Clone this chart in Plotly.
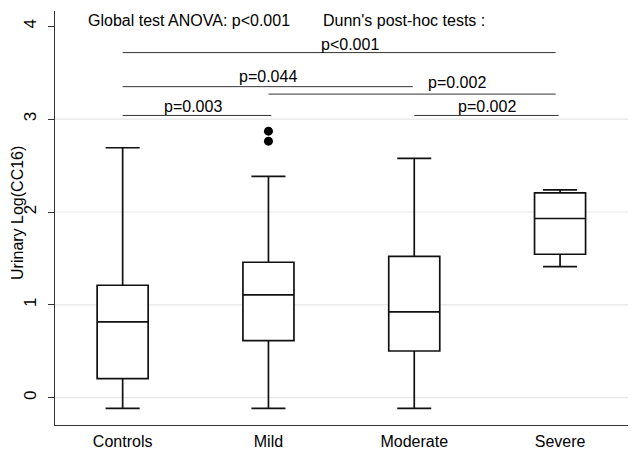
import plotly.graph_objects as go

# ---- data ----
categories = ["Controls", "Mild", "Moderate", "Severe"]
lower_whisker = [-0.115, -0.115, -0.115, 1.412]
q1_values = [0.205, 0.615, 0.503, 1.545]
median_values = [0.816, 1.107, 0.924, 1.930]
q3_values = [1.211, 1.459, 1.523, 2.207]
upper_whisker = [2.692, 2.383, 2.577, 2.239]

outlier_groups = ["Mild", "Mild"]
outlier_values = [2.871, 2.763]

y_tick_values = [0, 1, 2, 3, 4]
grid_values = [0, 1, 2, 3]

# pairwise comparisons: (from group index, to group index, bar level, label, label x, label y)
comp_from = [0, 0, 1, 0, 2]
comp_to = [2.97, 1.99, 2.97, 1.02, 2.99]
comp_level = [3.717, 3.35, 3.27, 3.04, 3.04]
comp_label = ["p<0.001", "p=0.044", "p=0.002", "p=0.003", "p=0.002"]
comp_label_x = [1.56, 1.0, 2.29, 0.48, 2.50]
comp_label_y = [3.806, 3.464, 3.393, 3.141, 3.137]

header_texts = ["Global test ANOVA: p<0.001", "Dunn's post-hoc tests :"]
header_x = [-0.254, 1.36]
header_y = 4.068

FONT = "Liberation Sans, Arial, sans-serif"

fig = go.Figure()

fig.add_trace(go.Box(
    x=categories,
    q1=q1_values,
    median=median_values,
    q3=q3_values,
    lowerfence=lower_whisker,
    upperfence=upper_whisker,
    fillcolor="white",
    line=dict(color="#111111", width=1.7),
    whiskerwidth=0.667,
    boxpoints=False,
    showlegend=False,
    hoverinfo="skip",
))

fig.add_trace(go.Scatter(
    x=outlier_groups,
    y=outlier_values,
    mode="markers",
    marker=dict(color="black", size=9),
    showlegend=False,
    hoverinfo="skip",
))

# light horizontal grid lines
for g in grid_values:
    fig.add_shape(type="line", xref="paper", x0=0, x1=1, yref="y", y0=g, y1=g,
                  line=dict(color="#e6e6e6", width=1.2), layer="below")

# comparison bars
for a, b, lvl in zip(comp_from, comp_to, comp_level):
    fig.add_shape(type="line", xref="x", yref="y", x0=a, x1=b, y0=lvl, y1=lvl,
                  line=dict(color="#333333", width=1))

for lab, lx, ly in zip(comp_label, comp_label_x, comp_label_y):
    fig.add_annotation(x=lx, y=ly, xref="x", yref="y", text=lab, showarrow=False,
                       xanchor="center", yanchor="middle",
                       font=dict(family=FONT, size=16, color="black"))

for t, hx in zip(header_texts, header_x):
    fig.add_annotation(x=hx, y=header_y, xref="x", yref="y", text=t, showarrow=False,
                       xanchor="left", yanchor="middle",
                       font=dict(family=FONT, size=16, color="black"))

# y axis title
fig.add_annotation(x=-37 / 573, y=1.99, xref="paper", yref="y", text="Urinary Log(CC16)",
                   showarrow=False, textangle=-90, xanchor="center", yanchor="middle",
                   font=dict(family=FONT, size=16, color="black"))

fig.update_layout(
    width=632, height=451,
    margin=dict(l=55, r=4, t=11, b=26, autoexpand=False),
    paper_bgcolor="white", plot_bgcolor="white",
    boxgap=0.5,
    font=dict(family=FONT, size=16, color="black"),
    xaxis=dict(
        type="category",
        automargin=False,
        range=[-0.464, 3.466],
        showline=True, linecolor="#333333", linewidth=1.2,
        ticks="outside", ticklen=2, tickcolor="rgba(0,0,0,0)",
        showgrid=False, zeroline=False,
        tickfont=dict(family=FONT, size=16, color="black"),
    ),
    yaxis=dict(
        automargin=False,
        range=[-0.294, 4.165],
        tickvals=y_tick_values,
        showline=True, linecolor="#333333", linewidth=1.2,
        ticks="outside", ticklen=6, tickcolor="#333333",
        tickangle=-90,
        ticklabelstandoff=5,
        showgrid=False, zeroline=False,
        tickfont=dict(family=FONT, size=17, color="black"),
    ),
)

fig.write_html(
    "out.html",
    config={"displayModeBar": False},
    post_script="document.body.style.margin='0';document.body.style.overflow='hidden';",
)
